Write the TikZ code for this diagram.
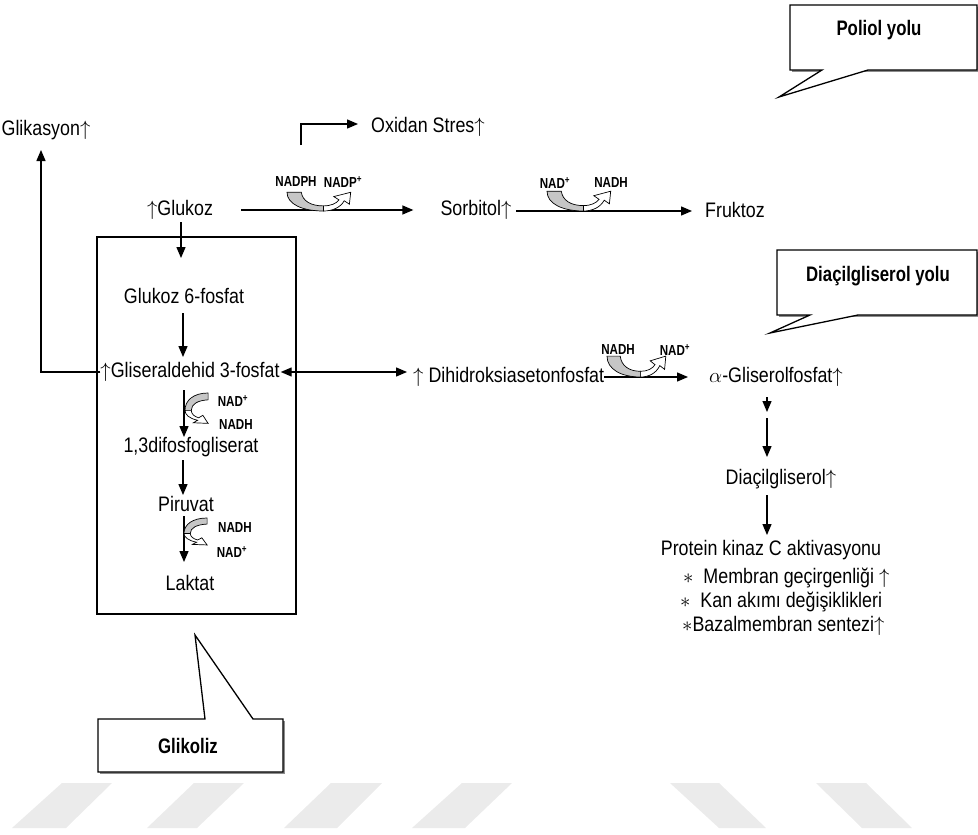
\documentclass[tikz,border=0pt]{standalone}
\usepackage{fontspec}
\setmainfont{Liberation Sans}[FakeStretch=0.85]
\newfontfamily\cofont{Liberation Sans}[FakeStretch=0.8]
\usetikzlibrary{arrows.meta}
\newcommand\uarr{$\uparrow$}
\newcommand\bigast{$\ast$}
\newcommand\cofshape{%
 \filldraw[fill=gray!45, line width=0.7pt] (0,-22) -- (11,-22) .. controls (12,-12) and (18,-6) .. (28,-6) -- (28,0) .. controls (12,0) and (0,-8) .. (0,-22) -- cycle;
 \filldraw[fill=white, line width=0.7pt] (28,-6) .. controls (34,-6) and (38,-9) .. (40,-13) -- (36,-17) -- (49,-22) -- (48,-8) -- (44,-12) .. controls (41,-4) and (35,0) .. (28,0) -- cycle;
}
\begin{document}
\begin{tikzpicture}[x=1pt,y=-1pt,
  txt/.style={inner sep=0pt, font=\fontsize{21}{24}\selectfont},
  cof/.style={inner sep=0pt, font=\cofont\bfseries\fontsize{14.5}{16}\selectfont},
  call/.style={inner sep=0pt, font=\cofont\bfseries\fontsize{21}{24}\selectfont},
  arr/.style={-{Triangle[length=11pt,width=9pt]}, line width=1.3pt},
  ln/.style={line width=1.3pt},
  callout/.style={line width=1.3pt, fill=white},
  shadow/.style={fill=black!45, draw=none},
  wm/.style={fill=black!8, draw=none}]
\useasboundingbox (0,0) rectangle (978,835);
% watermark stripes
\fill[wm] (12,828) -- (62,783) -- (112,783) -- (66,828) -- cycle;
\fill[wm] (147,828) -- (194,783) -- (244,783) -- (197,828) -- cycle;
\fill[wm] (284,828) -- (331,783) -- (382,783) -- (337,828) -- cycle;
\fill[wm] (412,828) -- (462,783) -- (512,783) -- (465,828) -- cycle;
\fill[wm] (670,783) -- (719,783) -- (766,828) -- (719,828) -- cycle;
\fill[wm] (816,783) -- (866,783) -- (912,828) -- (862,828) -- cycle;

% glycolysis box
\draw[line width=1.2pt] (97,237) rectangle (296,614);

% text nodes
\node[txt] (glik) at (46,130) {Glikasyon\uarr};
\node[txt, anchor=west] (oxs) at (371,127) {Oxidan Stres\uarr};
\node[txt] (glu) at (180,210) {\uarr Glukoz};
\node[txt] (sor) at (476,210) {Sorbitol\uarr};
\node[txt, anchor=west] (fru) at (705,210) {Fruktoz};
\node[txt] (g6p) at (184,296) {Glukoz 6-fosfat};
\node[txt] (gap) at (190,372) {\uarr Gliseraldehid 3-fosfat};
\node[txt, anchor=west] (dhap) at (413,377) {\uarr\ Dihidroksiasetonfosfat};
\node[txt] (agp) at (776,377) {$\alpha$-Gliserolfosfat\uarr};
\node[txt] (dag) at (781,479) {Diaçilgliserol\uarr};
\node[txt] (pkc) at (771,550) {Protein kinaz C aktivasyonu};
\node[txt, anchor=west] (m1) at (683,578) {\bigast\ \ Membran geçirgenliği \uarr};
\node[txt, anchor=west] (m2) at (680,602) {\bigast\ \ Kan akımı değişiklikleri};
\node[txt, anchor=west] (m3) at (682,626) {\bigast Bazalmembran sentezi\uarr};
\node[txt] (bpg) at (191,447) {1,3difosfogliserat};
\node[txt] (pir) at (186,504) {Piruvat};
\node[txt] (lak) at (190,583) {Laktat};

% cofactor labels
\node[cof] (c1a) at (296,182) {NADPH};
\node[cof] (c1b) at (343,182) {NADP\textsuperscript{+}};
\node[cof] (c2a) at (555,183) {NAD\textsuperscript{+}};
\node[cof] (c2b) at (611,183) {NADH};
\node[cof] (c3a) at (618,350) {NADH};
\node[cof] (c3b) at (675,350) {NAD\textsuperscript{+}};
\node[cof] (c4a) at (233,401) {NAD\textsuperscript{+}};
\node[cof] (c4b) at (236,425) {NADH};
\node[cof] (c5a) at (235,528) {NADH};
\node[cof] (c5b) at (232,552) {NAD\textsuperscript{+}};

% coordinates for connector ends
\coordinate (p2) at (41,150);
\coordinate (q1) at (301,145);
\coordinate (q2) at (301,124);
\coordinate (s1) at (516,211);
\coordinate (s2) at (692,211);
\coordinate (a1) at (181,222);
\coordinate (a2) at (181,258);
\coordinate (b1) at (183,313);
\coordinate (b2) at (183,357);
\coordinate (d1) at (184,390);
\coordinate (d2) at (184,437);
\coordinate (e1) at (183,460);
\coordinate (e2) at (183,495);
\coordinate (f1) at (184,516);
\coordinate (f2) at (184,562);
\coordinate (h1) at (767,397);
\coordinate (h2) at (767,412);
\coordinate (h3) at (767,418);
\coordinate (h4) at (767,457);
\coordinate (k1) at (767,495);
\coordinate (k2) at (767,535);

% connectors
\draw[arr] (gap.west) -| (p2);
\draw[arr, shorten >=13pt] (q1) -- (q2) -- (q2 -| oxs.west);
\draw[arr] (glu.east) ++(28,0) -- ([xshift=-27pt]sor.west);
\draw[arr] (s1) -- (s2);
\draw[arr] (a1) -- (a2);
\draw[arr] (b1) -- (b2);
\draw[{Triangle[length=11pt,width=9pt]}-{Triangle[length=11pt,width=9pt]}, line width=1.3pt] (gap.east) ++(1,0) -- ([xshift=-6pt]dhap.west |- gap.east);
\draw[arr] (dhap.east) -- ([xshift=-21pt]agp.west);
\draw[arr] (d1) -- (d2);
\draw[arr] (e1) -- (e2);
\draw[arr] (f1) -- (f2);
\draw[arr] (h1) -- (h2);
\draw[arr] (h3) -- (h4);
\draw[arr] (k1) -- (k2);

% cofactor curved arrows
\begin{scope}[shift={(287,211)}, xscale=1.3, yscale=0.85] \cofshape \end{scope}
\begin{scope}[shift={(547,211)}, xscale=1.3, yscale=0.9] \cofshape \end{scope}
\begin{scope}[shift={(607,377)}, xscale=1.2, yscale=0.95] \cofshape \end{scope}
\begin{scope}[shift={(185,393)}, cm={0,-1,1,0,(0,0)}, xscale=0.62, yscale=1.05] \cofshape \end{scope}
\begin{scope}[shift={(184,518)}, cm={0,-1,1,0,(0,0)}, xscale=0.55, yscale=1.05] \cofshape \end{scope}

% callouts
\fill[shadow] (792,7) rectangle (979,72);
\draw[callout] (790,5) -- (977,5) -- (977,70) -- (868,70) -- (779,97) -- (822,70) -- (790,70) -- cycle;
\node[call] (pol) at (879,30) {Poliol yolu};
\fill[shadow] (779,252) rectangle (979,317);
\draw[callout] (777,250) -- (977,250) -- (977,315) -- (858,315) -- (770,333) -- (810,315) -- (777,315) -- cycle;
\node[call] (dgl) at (878,276) {Diaçilgliserol yolu};
\fill[shadow] (100,721) rectangle (285,774);
\draw[callout] (98,719) -- (205,719) -- (195,635) -- (253,719) -- (283,719) -- (283,772) -- (98,772) -- cycle;
\node[call] (glk) at (188,746) {Glikoliz};
\end{tikzpicture}
\end{document}
